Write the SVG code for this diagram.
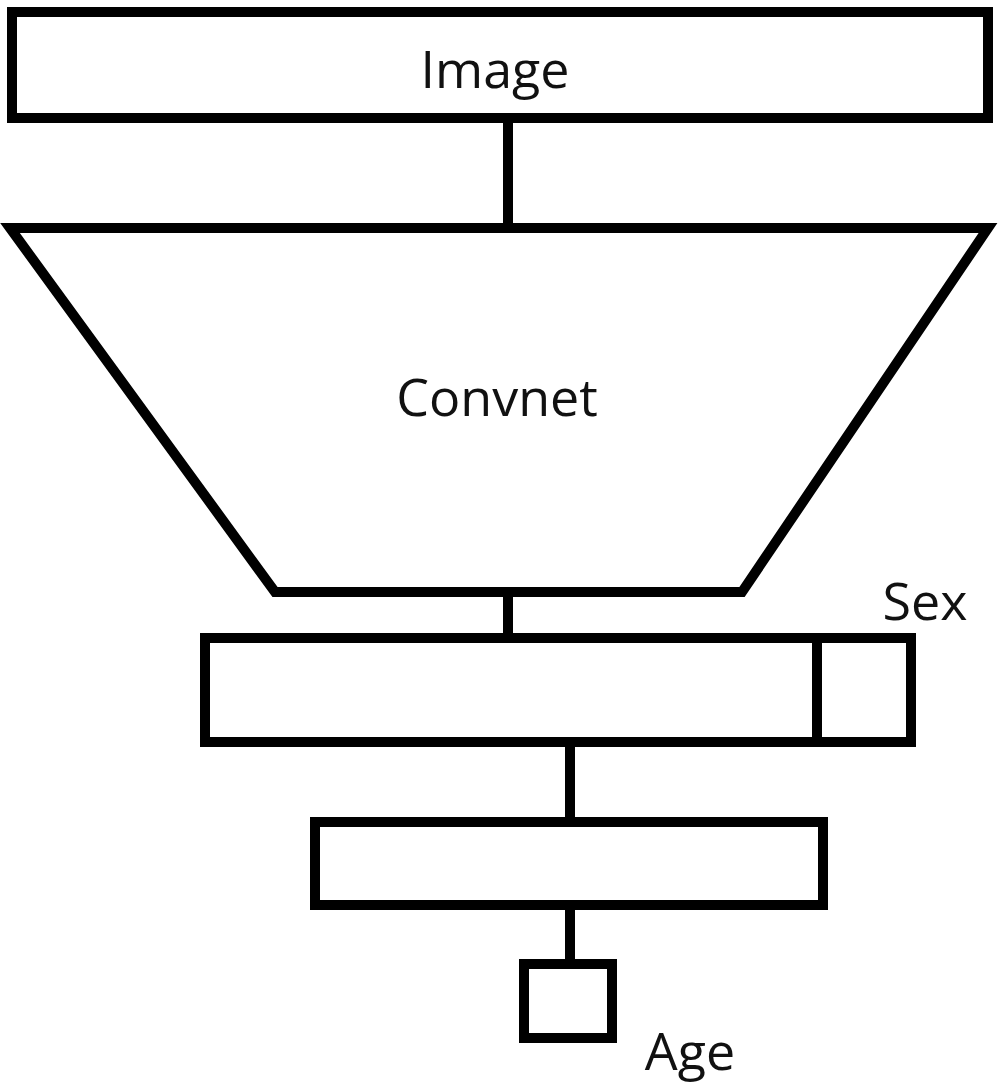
<svg xmlns="http://www.w3.org/2000/svg" width="1000" height="1092" viewBox="0 0 1000 1092">
<style>
.s{fill:#fff;stroke:#000;stroke-width:10}
.c{stroke:#000;stroke-width:10;fill:none}
text{font-family:"Open Sans","Liberation Sans",sans-serif;font-size:52px;fill:#111}
</style>
<rect width="1000" height="1092" fill="#fff"/>
<g id="connectors">
<line class="c" x1="508" y1="120" x2="508" y2="226"/>
<line class="c" x1="508" y1="594" x2="508" y2="638"/>
<line class="c" x1="570" y1="742" x2="570" y2="822"/>
<line class="c" x1="570" y1="905" x2="570" y2="964"/>
</g>
<g id="image"><rect class="s" x="12" y="12" width="976" height="106"/><text x="495" y="88" text-anchor="middle">Image</text></g>
<g id="convnet"><polygon class="s" points="10,228 988,228 742,592 275,592"/><text x="497" y="416" text-anchor="middle">Convnet</text></g>
<g id="dense1"><rect class="s" x="205" y="638" width="706" height="104"/><line class="c" x1="817" y1="638" x2="817" y2="742"/><text x="925" y="620" text-anchor="middle">Sex</text></g>
<g id="dense2"><rect class="s" x="315" y="822" width="508" height="83"/></g>
<g id="age"><rect class="s" x="524" y="964" width="88" height="74"/><text x="690" y="1070" text-anchor="middle">Age</text></g>
</svg>
